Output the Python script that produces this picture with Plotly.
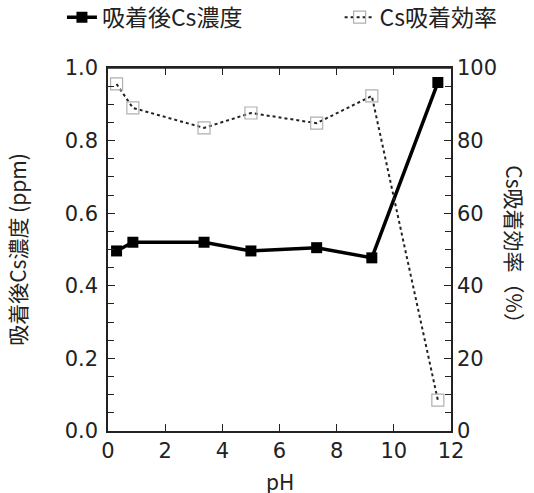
import plotly.graph_objects as go

ph_conc = [0.3, 0.87, 3.36, 5.0, 7.3, 9.23, 11.54]
conc_ppm = [0.496, 0.52, 0.52, 0.496, 0.505, 0.477, 0.96]
ph_eff = [0.3, 0.87, 3.36, 5.0, 7.3, 9.23, 11.54]
eff_pct = [95.6, 89.0, 83.5, 87.6, 84.8, 92.3, 8.5]

FONT = "Noto Sans CJK JP"
NUMFONT = "DejaVu Sans"
C = "#222"

fig = go.Figure()
fig.add_trace(go.Scatter(
    x=ph_conc, y=conc_ppm, name="吸着後Cs濃度", mode="lines+markers",
    line=dict(color="black", width=3.5),
    marker=dict(symbol="square", size=11, color="black"),
    yaxis="y", legend="legend"))
fig.add_trace(go.Scatter(
    x=ph_eff, y=eff_pct, name="Cs吸着効率", mode="lines+markers",
    line=dict(color=C, width=2, dash="dot"),
    marker=dict(symbol="square-open", size=12, color="#b0b0b0", line=dict(width=1.2)),
    yaxis="y2", legend="legend2"))

tickfont = dict(family=NUMFONT, size=21, color=C)
legfont = dict(family=FONT, size=23, color=C)
titlefont = dict(family=FONT, size=21, color=C)

fig.update_layout(
    width=534, height=493,
    margin=dict(l=108, r=83, t=68, b=62, autoexpand=False),
    paper_bgcolor="white", plot_bgcolor="white",
    font=dict(family=FONT, size=21, color=C),
    showlegend=True,
    legend=dict(orientation="h", xref="container", yref="container",
                x=0.116, y=0.965, xanchor="left", yanchor="middle",
                font=legfont, bgcolor="rgba(0,0,0,0)"),
    legend2=dict(orientation="h", xref="container", yref="container",
                 x=0.636, y=0.965, xanchor="left", yanchor="middle",
                 font=legfont, bgcolor="rgba(0,0,0,0)"),
    xaxis=dict(range=[0, 12], dtick=2, tick0=0, ticks="inside", ticklen=7,
               tickcolor=C, showline=True, linecolor=C, linewidth=1.5,
               mirror="ticks", showgrid=False, zeroline=False, automargin=False,
               tickfont=tickfont),
    yaxis=dict(range=[0, 1.0], dtick=0.2, tickformat=".1f", ticks="inside", ticklen=7,
               tickcolor=C, showline=True, linecolor=C, linewidth=1.5,
               showgrid=False, zeroline=False, tickfont=tickfont, automargin=False,
               ticklabelstandoff=4,
               minor=dict(dtick=0.05, ticks="inside", ticklen=6, tickcolor=C),
               title=dict(text="吸着後Cs濃度 (ppm)", font=titlefont, standoff=32)),
    yaxis2=dict(range=[0, 100], dtick=20, overlaying="y", side="right",
                ticks="inside", ticklen=7, tickcolor=C, showline=True,
                linecolor=C, linewidth=1.5, showgrid=False, zeroline=False,
                tickfont=tickfont, automargin=False, ticklabelstandoff=0,
                minor=dict(dtick=5, ticks="inside", ticklen=6, tickcolor=C)),
    shapes=[dict(type="line", xref="paper", yref="paper", x0=0, x1=1, y0=1, y1=1,
                 line=dict(color=C, width=1.5))],
    annotations=[
        dict(text="Cs吸着効率（%）", xref="paper", yref="paper",
             x=1.187, y=0.5, xanchor="center", yanchor="middle",
             textangle=90, showarrow=False, font=titlefont),
        dict(text="pH", xref="paper", yref="paper",
             x=0.5, y=-0.137, xanchor="center", yanchor="middle",
             showarrow=False, font=titlefont),
    ],
)

fig.write_html("out.html", config={"displayModeBar": False},
               post_script="document.body.style.margin='0';document.body.style.overflow='hidden';")
